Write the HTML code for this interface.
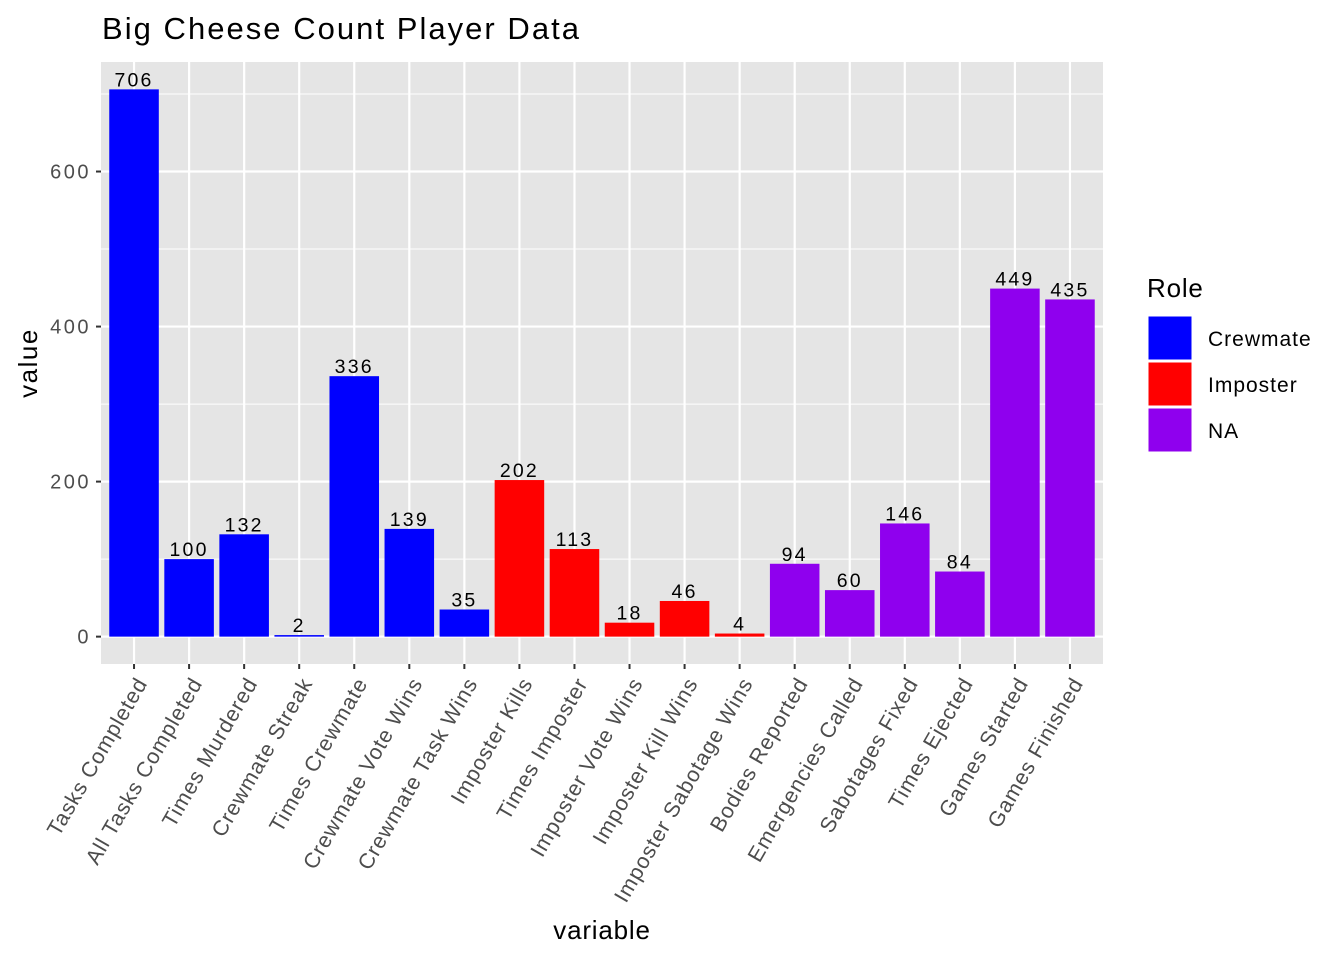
<!DOCTYPE html>
<html><head><meta charset="utf-8"><style>
body{margin:0;background:#fff;}
svg text{font-family:"Liberation Sans",Arial,sans-serif;}
</style></head><body>
<svg id="chart" width="1344" height="960" xmlns="http://www.w3.org/2000/svg">
<rect x="0" y="0" width="1344" height="960" fill="#fff"/>
<text x="102" y="39" font-size="31" textLength="477" lengthAdjust="spacing" fill="#000">Big Cheese Count Player Data</text>
<rect x="101" y="62" width="1002" height="602" fill="#e5e5e5"/>
<g id="grid"></g>
<g id="bars"></g>
<g id="axes"></g>
<text x="0" y="0" font-size="26" letter-spacing="1.5" text-anchor="middle" transform="translate(37,363) rotate(-90)">value</text>
<text x="602" y="939" font-size="26" letter-spacing="0.8" text-anchor="middle">variable</text>
<g>
<text x="1147" y="297" font-size="26" letter-spacing="0.8">Role</text>
<g><rect x="1148" y="316" width="44" height="44" fill="#0000ff" stroke="#fff" stroke-width="1"/><text x="1208" y="346" font-size="21" letter-spacing="1">Crewmate</text></g>
<g><rect x="1148" y="362" width="44" height="44" fill="#ff0000" stroke="#fff" stroke-width="1"/><text x="1208" y="392" font-size="21" letter-spacing="1">Imposter</text></g>
<g><rect x="1148" y="408" width="44" height="44" fill="#8f00ee" stroke="#fff" stroke-width="1"/><text x="1208" y="438" font-size="21" letter-spacing="1">NA</text></g>
</g>
</svg>
<script>
const categories=["Tasks Completed","All Tasks Completed","Times Murdered","Crewmate Streak","Times Crewmate","Crewmate Vote Wins","Crewmate Task Wins","Imposter Kills","Times Imposter","Imposter Vote Wins","Imposter Kill Wins","Imposter Sabotage Wins","Bodies Reported","Emergencies Called","Sabotages Fixed","Times Ejected","Games Started","Games Finished"];
const values=[706,100,132,2,336,139,35,202,113,18,46,4,94,60,146,84,449,435];
const roles=["Crewmate","Crewmate","Crewmate","Crewmate","Crewmate","Crewmate","Crewmate","Imposter","Imposter","Imposter","Imposter","Imposter","NA","NA","NA","NA","NA","NA"];
const yTicks=[0,200,400,600];
const yMinor=[100,300,500,700];
const colors={Crewmate:"#0000ff",Imposter:"#ff0000",NA:"#8f00ee"};
const NS="http://www.w3.org/2000/svg";
const maxV=Math.max(...values);
const yLo=-0.05*maxV, yHi=maxV*1.05;
const pTop=62,pBot=664,pL=101,pR=1103;
const y=v=>pBot-(v-yLo)/(yHi-yLo)*(pBot-pTop);
const n=categories.length;
const step=(pR-pL)/(n-1+1.2);
const x=i=>pL+step*(0.6+i);
function mk(tag,attrs,parent){const e=document.createElementNS(NS,tag);for(const k in attrs)e.setAttribute(k,attrs[k]);parent.appendChild(e);return e;}
const grid=document.getElementById('grid'),bars=document.getElementById('bars'),axes=document.getElementById('axes');
yMinor.forEach(v=>{if(y(v)>pTop){const l=mk('line',{x1:pL,x2:pR,y1:y(v),y2:y(v),stroke:'#fff','stroke-width':1},grid);

}});
yTicks.forEach(v=>{const l=mk('line',{x1:pL,x2:pR,y1:y(v),y2:y(v),stroke:'#fff','stroke-width':2.2},grid);


mk('line',{x1:pL-5,x2:pL,y1:y(v),y2:y(v),stroke:'#333','stroke-width':2},axes);
const t=mk('text',{x:pL-10,y:y(v)+7,'font-size':20,'letter-spacing':2.5,fill:'#4d4d4d','text-anchor':'end'},axes);t.textContent=v;

});
categories.forEach((c,i)=>{
const cx=x(i);
const g=mk('line',{x1:cx,x2:cx,y1:pTop,y2:pBot,stroke:'#fff','stroke-width':2.2},grid);


const bw=step*0.9;
const r=mk('rect',{x:cx-bw/2,y:y(values[i]),width:bw,height:y(0)-y(values[i]),fill:colors[roles[i]]},bars);


const vt=mk('text',{x:cx,y:y(values[i])-3,'font-size':19.5,'letter-spacing':2.2,fill:'#000','text-anchor':'middle'},bars);vt.textContent=values[i];


mk('line',{x1:cx,x2:cx,y1:pBot,y2:pBot+5,stroke:'#333','stroke-width':2},axes);
const t=mk('text',{x:0,y:0,'font-size':21.5,'letter-spacing':0.9,fill:'#4d4d4d','text-anchor':'end',transform:`translate(${cx+14},${pBot+19}) rotate(-60)`},axes);t.textContent=c;


});
</script>
</body></html>
